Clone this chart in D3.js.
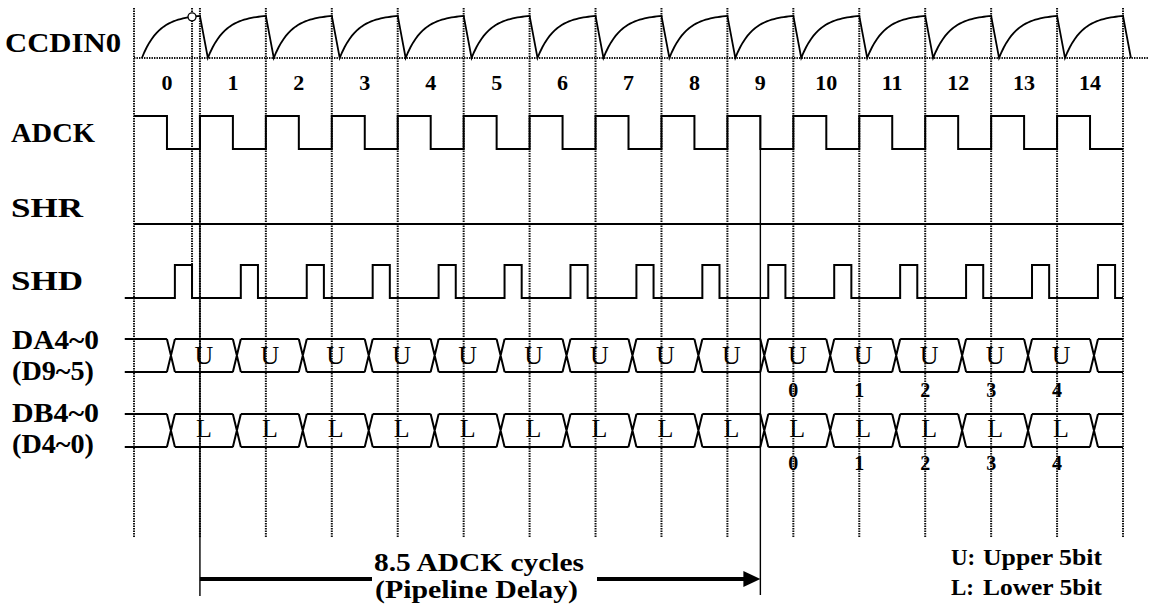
<!DOCTYPE html>
<html>
<head>
<meta charset="utf-8">
<script src="https://cdn.jsdelivr.net/npm/d3@7"></script>
<style>
  body { margin: 0; background: #fff; }
  #graph { width: 1149px; height: 612px; }
  text { font-family: "Liberation Serif", "Times New Roman", serif; fill: #000; }
</style>
</head>
<body>
<div id="graph"></div>
<script>
// cycle numbers along the top
const cycleLabels = ["0", "1", "2", "3", "4", "5", "6", "7", "8", "9", "10", "11", "12", "13", "14"];
// signal names on the left
const signalNames = ["CCDIN0", "ADCK", "SHR", "SHD", "DA4~0", "(D9~5)", "DB4~0", "(D4~0)"];
// data words on the two buses, one per cycle starting at cycle 0
const upperWords = ["U", "U", "U", "U", "U", "U", "U", "U", "U", "U", "U", "U", "U", "U"];
const lowerWords = ["L", "L", "L", "L", "L", "L", "L", "L", "L", "L", "L", "L", "L", "L"];
// output word numbers and the cycle they come out on
const outputWords = ["0", "1", "2", "3", "4"];
const outputCycles = [10, 11, 12, 13, 14];
// phases inside one ADCK cycle (fraction of a cycle)
const adckHigh = [0, 0.5];
const shdHigh = [0.62, 0.88];
const busSwitch = 0.56;
const ccdReset = 0.12;
// pipeline delay in ADCK cycles, from cycle 1
const delayStart = 1;
const delayCycles = 8.5;
const legend = [["U:", "Upper 5bit"], ["L:", "Lower 5bit"]];

function chart() {
  const W = 1149, H = 612;
  const nCycles = cycleLabels.length;
  const x0 = d3.scaleLinear().domain([0, 15]).range([134, 1123]);

  const rows = {
    ccd: d3.scaleLinear().domain([0, 1]).range([58, 16]),
    adck: d3.scaleLinear().domain([0, 1]).range([149, 116]),
    shr: 224,
    shd: d3.scaleLinear().domain([0, 1]).range([298, 265]),
    da: d3.scaleLinear().domain([0, 1]).range([372, 339]),
    db: d3.scaleLinear().domain([0, 1]).range([447, 414])
  };
  const lead = -0.14;  // where SHD and the buses start, left of cycle 0
  const endT = nCycles;

  const svg = d3.select("#graph").append("svg")
    .attr("width", W).attr("height", H);

  const dotted = { stroke: "#111", width: 2, dash: "1.4,1.1" };
  const line = d3.line().x(d => x0(d[0])).y(d => d[1]);

  // dotted grid: one line at every ADCK rising edge
  const grid = svg.append("g");
  grid.selectAll("line.v")
    .data(d3.range(nCycles + 1))
    .enter().append("line")
    .attr("class", "v")
    .attr("x1", d => x0(d)).attr("x2", d => x0(d))
    .attr("y1", 8).attr("y2", 538)
    .attr("stroke", dotted.stroke).attr("stroke-width", dotted.width)
    .attr("stroke-dasharray", dotted.dash);
  // sampling point of the first pixel
  grid.append("line")
    .attr("x1", x0(shdHigh[1])).attr("x2", x0(shdHigh[1]))
    .attr("y1", 8).attr("y2", 298)
    .attr("stroke", dotted.stroke).attr("stroke-width", dotted.width)
    .attr("stroke-dasharray", dotted.dash);
  // CCDIN0 baseline
  grid.append("line")
    .attr("x1", x0(0)).attr("x2", W)
    .attr("y1", rows.ccd(0)).attr("y2", rows.ccd(0))
    .attr("stroke", dotted.stroke).attr("stroke-width", dotted.width)
    .attr("stroke-dasharray", dotted.dash);

  const waves = svg.append("g")
    .attr("fill", "none").attr("stroke", "#000").attr("stroke-width", 2);

  // CCDIN0: reset drop then exponential settling each cycle
  let ccdPts = [];
  for (let k = 0; k < nCycles; k++) {
    if (k > 0) ccdPts.push([k, rows.ccd(1)]);
    const steps = 24;
    for (let s = 0; s <= steps; s++) {
      const t = k + ccdReset + (1 - ccdReset) * s / steps;
      const u = (t - k - ccdReset) * 65.93;
      const v = (1 - Math.exp(-u / 17)) / (1 - Math.exp(-58 / 17));
      ccdPts.push([t, rows.ccd(v)]);
    }
  }
  ccdPts.push([nCycles, rows.ccd(1)]);
  ccdPts.push([nCycles + ccdReset, rows.ccd(0)]);
  waves.append("path").attr("d", line(ccdPts)).attr("stroke-width", 1.8);

  svg.append("circle")
    .attr("cx", x0(shdHigh[1]))
    .attr("cy", rows.ccd(0.98))
    .attr("r", 4)
    .attr("fill", "#fff").attr("stroke", "#000").attr("stroke-width", 1.3);

  // ADCK square wave
  let adckPts = [];
  d3.range(nCycles).forEach(function(k) {
    adckPts.push([k + adckHigh[0], rows.adck(0)], [k + adckHigh[0], rows.adck(1)],
      [k + adckHigh[1], rows.adck(1)], [k + adckHigh[1], rows.adck(0)]);
  });
  adckPts.push([endT, rows.adck(0)]);
  adckPts.shift();
  waves.append("path").attr("d", line(adckPts));

  // SHR stays low
  waves.append("path").attr("d", line([[0, rows.shr], [endT, rows.shr]]));

  // SHD pulses
  let shdPts = [[lead, rows.shd(0)]];
  d3.range(nCycles).forEach(function(k) {
    shdPts.push([k + shdHigh[0], rows.shd(0)], [k + shdHigh[0], rows.shd(1)],
      [k + shdHigh[1], rows.shd(1)], [k + shdHigh[1], rows.shd(0)]);
  });
  shdPts.push([endT, rows.shd(0)]);
  waves.append("path").attr("d", line(shdPts));

  // buses
  const half = 4 / 65.93;
  function bus(ys, words, textY, numY) {
    const sw = d3.range(nCycles).map(k => k + busSwitch);
    const edges = [lead].concat(sw).concat([endT]);
    let d = "";
    for (let i = 0; i < edges.length - 1; i++) {
      const a = i === 0 ? edges[i] : edges[i] + half;
      const b = i === edges.length - 2 ? edges[i + 1] : edges[i + 1] - half;
      d += line([[a, ys(1)], [b, ys(1)]]) + line([[a, ys(0)], [b, ys(0)]]);
    }
    sw.forEach(function(t) {
      d += line([[t - half, ys(1)], [t + half, ys(0)]]) + line([[t - half, ys(0)], [t + half, ys(1)]]);
    });
    waves.append("path").attr("d", d);

    svg.append("g").selectAll("text")
      .data(words)
      .enter().append("text")
      .attr("x", (d, i) => x0(i + busSwitch + 0.5))
      .attr("y", textY)
      .attr("text-anchor", "middle")
      .style("font-size", "26px")
      .text(d => d);

    svg.append("g").selectAll("text")
      .data(outputWords)
      .enter().append("text")
      .attr("x", (d, i) => x0(outputCycles[i]))
      .attr("y", numY)
      .attr("text-anchor", "middle")
      .style("font-size", "20px").style("font-weight", "bold")
      .text(d => d);
  }
  bus(rows.da, upperWords, 364, 397);
  bus(rows.db, lowerWords, 437, 470);

  // cycle numbers
  svg.append("g").selectAll("text")
    .data(cycleLabels)
    .enter().append("text")
    .attr("x", (d, i) => x0(i + 0.5))
    .attr("y", 90)
    .attr("text-anchor", "middle")
    .style("font-size", "22px").style("font-weight", "bold")
    .text(d => d);

  // signal names
  const nameY = [52, 142, 217, 290, 349, 380, 422, 453];
  const nameX = [5, 11, 11, 11, 12, 12, 12, 12];
  const nameW = [116, 84, 72, 72, 87, 82, 87, 82];
  svg.append("g").selectAll("text")
    .data(signalNames)
    .enter().append("text")
    .attr("x", (d, i) => nameX[i])
    .attr("y", (d, i) => nameY[i])
    .attr("textLength", (d, i) => nameW[i])
    .attr("lengthAdjust", "spacingAndGlyphs")
    .style("font-size", "28px").style("font-weight", "bold")
    .text(d => d);

  // pipeline delay marker
  const xs = x0(delayStart), xe = x0(delayStart + delayCycles);
  const ay = 579;
  svg.append("line")
    .attr("x1", xs).attr("x2", xs).attr("y1", rows.adck(1)).attr("y2", 596)
    .attr("stroke", "#000").attr("stroke-width", 1.4);
  svg.append("line")
    .attr("x1", xe).attr("x2", xe).attr("y1", rows.adck(1)).attr("y2", 595)
    .attr("stroke", "#000").attr("stroke-width", 1.4);
  svg.append("path")
    .attr("d", `M${xs},${ay}H372M597,${ay}H${xe - 16}`)
    .attr("stroke", "#000").attr("stroke-width", 4).attr("fill", "none");
  svg.append("path")
    .attr("d", `M${xe - 17},${ay - 8}L${xe},${ay}L${xe - 17},${ay + 8}Z`)
    .attr("fill", "#000");
  svg.append("text")
    .attr("x", 374).attr("y", 571)
    .attr("textLength", 210).attr("lengthAdjust", "spacingAndGlyphs")
    .style("font-size", "25px").style("font-weight", "bold")
    .text(delayCycles + " ADCK cycles");
  svg.append("text")
    .attr("x", 375).attr("y", 598)
    .attr("textLength", 203).attr("lengthAdjust", "spacingAndGlyphs")
    .style("font-size", "25px").style("font-weight", "bold")
    .text("(Pipeline Delay)");

  // legend
  const lg = svg.append("g").selectAll("g")
    .data(legend)
    .enter().append("g")
    .attr("transform", (d, i) => `translate(951,${565 + i * 30})`);
  lg.append("text").style("font-size", "23px").style("font-weight", "bold").text(d => d[0]);
  lg.append("text").attr("x", 32)
    .attr("textLength", 119).attr("lengthAdjust", "spacingAndGlyphs")
    .style("font-size", "23px").style("font-weight", "bold").text(d => d[1]);
}

chart();
</script>
</body>
</html>
